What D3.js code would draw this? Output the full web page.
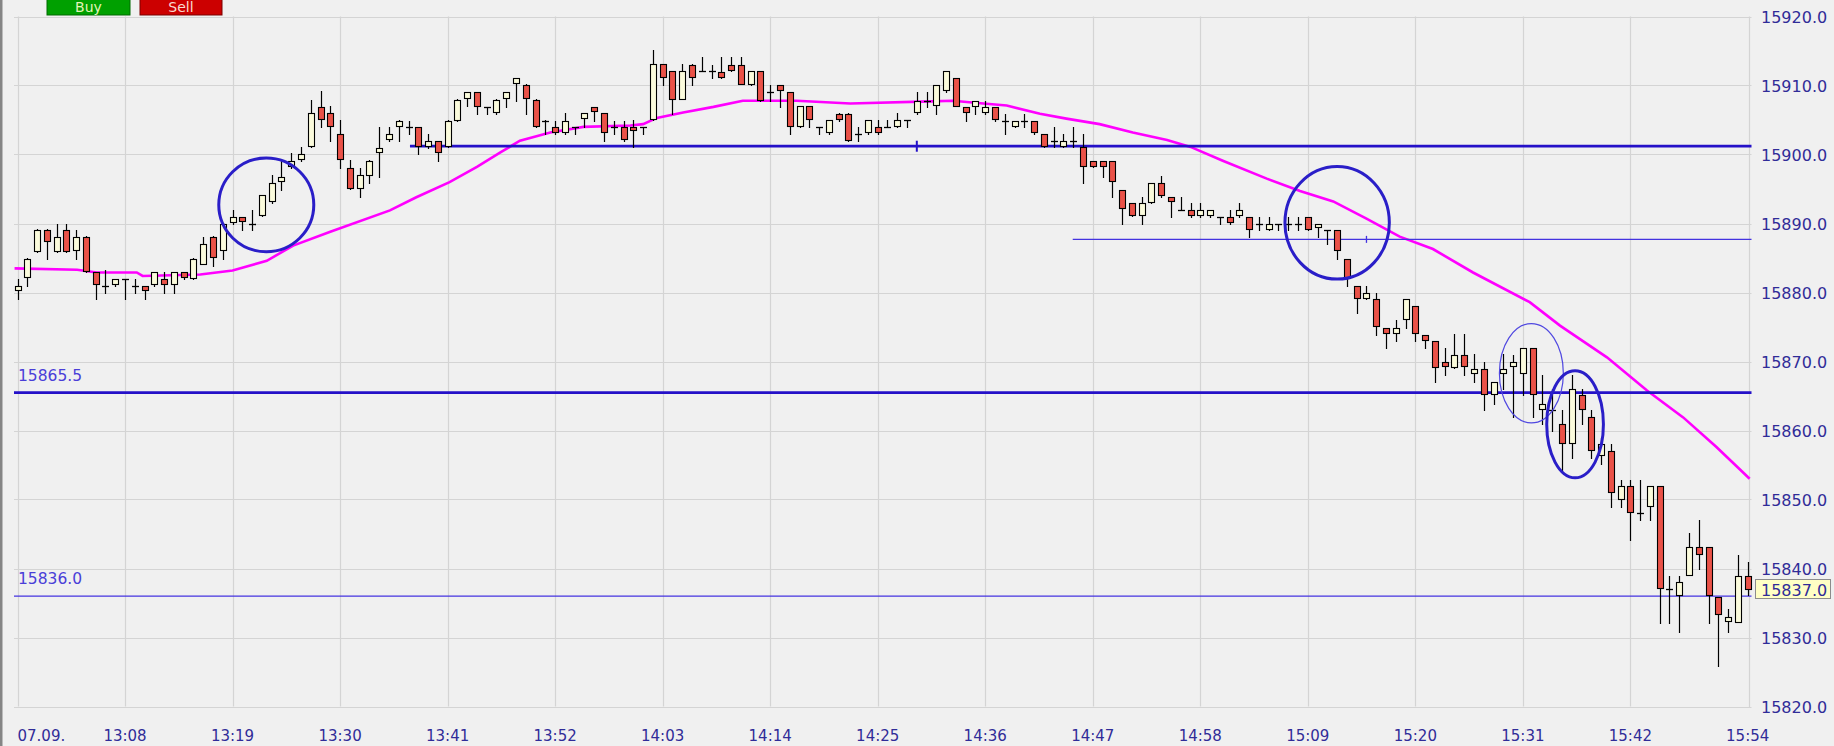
<!DOCTYPE html>
<html><head><meta charset="utf-8">
<script src="https://cdn.jsdelivr.net/npm/d3@7/dist/d3.min.js"></script>
<style>
html,body{margin:0;padding:0;background:#f0f0f0;overflow:hidden;}
svg{display:block;}
text{font-family:"DejaVu Sans",Verdana,sans-serif;}
</style></head><body>
<svg id="chart" width="1834" height="746"></svg>
<script>
// ---- data (1-minute candles, 07.09., 12:57 .. 15:54) ----
const opens = [15880.3,15882.2,15886.0,15889.1,15886.0,15889.0,15886.1,15888.1,15882.9,15881.0,
15881.2,15881.9,15880.9,15880.9,15881.2,15881.9,15881.2,15882.9,15882.1,15884.2,
15888.1,15886.1,15890.2,15891.0,15890.0,15891.3,15893.2,15896.1,15898.3,15899.3,
15901.2,15906.9,15906.0,15903.0,15898.1,15895.2,15897.1,15900.3,15902.2,15904.2,
15904.0,15904.0,15901.3,15902.0,15901.2,15905.0,15908.2,15909.0,15906.9,15906.1,
15908.2,15910.3,15910.1,15907.9,15904.9,15904.0,15903.3,15904.0,15905.3,15906.9,
15906.0,15904.0,15904.0,15904.0,15904.0,15905.2,15913.1,15912.1,15908.1,15913.0,
15912.1,15912.1,15911.9,15913.0,15913.0,15910.2,15912.1,15909.0,15910.1,15909.1,
15904.2,15907.0,15904.0,15903.2,15905.9,15905.9,15903.0,15903.2,15904.0,15904.0,
15904.2,15905.0,15906.1,15907.8,15907.2,15909.3,15911.1,15906.9,15907.1,15906.1,
15906.9,15904.9,15904.2,15904.9,15904.9,15903.0,15902.0,15901.2,15902.0,15901.1,
15899.1,15899.1,15899.1,15894.9,15892.9,15891.3,15893.1,15895.8,15893.9,15892.0,
15892.0,15891.3,15891.3,15890.9,15890.9,15891.3,15891.0,15890.0,15889.2,15890.0,
15890.0,15890.0,15891.0,15889.5,15889.0,15889.1,15884.9,15881.0,15879.2,15879.1,
15874.9,15874.1,15876.2,15878.1,15873.9,15872.9,15870.0,15869.2,15871.0,15868.3,
15868.9,15865.3,15868.3,15869.3,15868.3,15871.9,15863.1,15863.0,15861.0,15858.2,
15865.1,15861.9,15856.4,15857.0,15850.1,15851.9,15848.0,15849.1,15851.9,15837.0,
15836.2,15839.1,15843.1,15843.1,15835.9,15832.4,15832.2,15838.9];
const highs = [15882.0,15885.0,15889.2,15889.2,15890.0,15890.0,15889.1,15888.2,15883.0,15883.2,
15882.0,15882.0,15881.9,15880.9,15883.0,15882.9,15883.0,15883.0,15885.0,15888.1,
15888.2,15890.1,15892.0,15891.0,15892.0,15894.2,15897.0,15899.1,15900.2,15901.1,
15907.9,15909.2,15907.0,15905.0,15899.2,15898.1,15899.2,15904.0,15904.0,15905.0,
15904.9,15904.0,15903.0,15902.0,15905.0,15908.0,15909.1,15909.1,15906.9,15908.0,
15909.1,15911.1,15910.2,15908.0,15905.0,15904.9,15906.0,15904.0,15906.0,15906.9,
15906.0,15904.9,15904.9,15905.0,15904.0,15915.1,15913.1,15912.1,15913.1,15913.1,
15914.2,15913.0,15914.1,15914.1,15914.1,15912.1,15912.1,15910.1,15910.1,15909.1,
15907.0,15907.0,15904.0,15905.0,15906.0,15906.0,15904.0,15905.0,15905.0,15905.0,
15906.0,15905.0,15909.0,15909.0,15910.1,15912.1,15911.1,15906.9,15907.8,15907.8,
15906.9,15905.9,15904.9,15905.9,15904.9,15903.0,15904.0,15903.0,15904.0,15903.0,
15899.1,15899.1,15899.1,15894.9,15892.9,15893.9,15895.8,15896.9,15893.9,15893.9,
15892.9,15892.9,15892.0,15890.9,15891.9,15892.9,15891.0,15891.0,15891.0,15890.0,
15891.0,15891.0,15891.0,15890.0,15889.0,15889.1,15884.9,15881.0,15881.0,15880.0,
15874.9,15876.0,15879.1,15878.1,15873.9,15872.9,15872.0,15874.0,15874.0,15871.1,
15870.0,15867.1,15871.1,15871.0,15871.9,15871.9,15868.1,15866.0,15862.9,15868.0,
15866.0,15862.9,15858.9,15858.0,15852.8,15852.8,15852.8,15851.9,15851.9,15838.9,
15838.9,15845.1,15847.0,15843.1,15835.9,15834.1,15841.9,15840.9];
const lows = [15879.1,15880.9,15885.8,15884.8,15885.9,15885.8,15884.8,15882.9,15879.0,15879.9,
15880.9,15879.0,15879.9,15879.0,15881.0,15879.9,15879.9,15881.9,15881.9,15884.1,
15883.9,15884.9,15890.0,15889.0,15889.0,15891.1,15893.0,15894.9,15898.1,15899.1,
15901.1,15904.0,15901.9,15898.1,15895.0,15893.9,15895.8,15896.8,15901.9,15901.9,
15903.0,15900.0,15901.0,15899.0,15901.1,15904.9,15907.0,15905.9,15905.9,15905.9,
15906.9,15907.8,15905.9,15904.0,15903.0,15903.0,15903.0,15903.0,15904.0,15904.9,
15902.0,15903.0,15902.0,15901.1,15903.0,15905.0,15910.0,15905.9,15908.0,15910.0,
15912.1,15911.1,15911.1,15912.1,15910.2,15910.0,15907.8,15907.7,15906.9,15903.0,
15904.0,15904.0,15903.0,15903.0,15904.9,15902.0,15902.0,15903.0,15903.0,15904.0,
15904.0,15904.0,15905.9,15906.9,15905.9,15909.0,15907.0,15904.9,15905.9,15905.9,
15904.9,15903.0,15904.0,15904.0,15903.0,15901.1,15901.1,15901.1,15901.1,15895.8,
15898.2,15896.8,15893.9,15890.0,15891.1,15890.0,15892.9,15893.9,15891.0,15892.0,
15891.0,15891.0,15891.0,15890.0,15890.0,15891.0,15888.0,15889.0,15889.0,15889.0,
15889.0,15889.0,15889.0,15888.0,15887.0,15884.9,15880.9,15877.0,15879.1,15873.9,
15872.0,15872.9,15874.9,15872.9,15872.0,15867.0,15868.1,15869.1,15868.0,15867.0,
15862.9,15863.9,15866.0,15861.9,15865.1,15861.9,15860.9,15860.0,15854.2,15856.0,
15860.9,15856.0,15855.1,15848.9,15848.9,15844.1,15847.0,15847.0,15832.1,15832.1,
15830.8,15839.0,15839.9,15832.1,15825.9,15830.8,15832.2,15836.1];
const closes = [15881.0,15884.9,15889.1,15887.4,15888.0,15886.0,15888.0,15883.1,15881.2,15881.0,
15881.9,15881.9,15880.9,15880.3,15882.9,15881.2,15882.9,15882.2,15884.9,15887.1,
15885.2,15890.0,15891.0,15890.4,15890.0,15894.1,15895.9,15896.8,15899.0,15900.0,
15906.0,15905.2,15904.2,15899.3,15895.1,15897.0,15899.1,15901.0,15903.0,15904.9,
15904.0,15901.3,15902.0,15900.3,15904.9,15907.9,15909.0,15907.1,15906.9,15907.9,
15909.0,15911.1,15908.2,15904.1,15904.9,15903.2,15904.9,15904.0,15906.0,15906.3,
15903.2,15904.0,15902.2,15903.5,15904.0,15913.1,15911.3,15908.1,15912.1,15911.2,
15912.1,15912.1,15911.2,15912.3,15910.2,15912.1,15907.9,15909.0,15909.4,15904.2,
15907.0,15905.2,15904.0,15905.0,15905.2,15902.1,15903.0,15905.0,15903.2,15904.0,
15905.0,15905.0,15907.8,15907.8,15910.1,15912.1,15907.1,15906.1,15907.8,15906.9,
15905.1,15904.9,15904.9,15904.9,15903.2,15901.2,15902.0,15902.0,15902.0,15898.4,
15898.4,15898.4,15896.2,15892.3,15891.2,15892.9,15895.8,15894.2,15893.2,15892.0,
15891.3,15892.0,15891.9,15890.9,15890.2,15892.0,15889.2,15890.0,15890.0,15890.0,
15890.0,15890.0,15889.2,15890.0,15889.0,15886.1,15882.1,15879.2,15880.0,15875.2,
15874.1,15874.9,15879.1,15874.1,15873.1,15869.2,15869.3,15871.0,15869.3,15868.9,
15865.3,15867.1,15868.9,15870.0,15871.9,15865.3,15863.9,15863.0,15858.2,15866.0,
15863.1,15857.2,15858.0,15851.1,15851.9,15848.2,15848.0,15851.9,15837.2,15837.0,
15838.0,15843.1,15842.1,15836.2,15833.4,15833.0,15838.9,15837.0];

const tickIndex = [0,11,22,33,44,55,66,77,88,99,110,121,132,143,154,165,177];
const tickLabels = ["07.09.","13:08","13:19","13:30","13:41","13:52","14:03","14:14","14:25",
  "14:36","14:47","14:58","15:09","15:20","15:31","15:42","15:54"];
const priceTicks = [15820,15830,15840,15850,15860,15870,15880,15890,15900,15910,15920];

// moving average (index, value)
const maIndex = [-0.3,6.1,8.1,12.2,12.8,18.7,22.0,25.5,28.2,32.0,38.1,40.8,44.2,47.0,49.4,51.4,54.5,57.9,
  62.7,64.0,65.4,68.1,71.2,74.2,79.7,85.2,93.4,95.7,98.8,101.2,104.6,107.3,110.7,114.1,117.6,120.0,
  123.3,127.8,131.2,134.6,138.0,141.4,144.8,148.9,154.7,157.8,162.6,166.7,170.4,173.8,177.2];
const maValue = [15883.5,15883.3,15882.9,15882.9,15882.4,15882.6,15883.2,15884.6,15886.8,15888.8,15891.9,
  15893.8,15896.0,15898.2,15900.3,15902.0,15903.2,15904.0,15904.2,15904.4,15905.3,15906.1,15906.9,
  15907.8,15907.8,15907.4,15907.7,15907.8,15907.4,15907.1,15905.9,15905.2,15904.4,15903.2,15902.1,
  15901.1,15899.1,15896.5,15894.7,15893.2,15890.7,15888.1,15886.3,15882.9,15878.6,15875.2,15870.6,
  15865.8,15861.9,15857.6,15853.0];

// horizontal levels
const levelValues = [15901.2, 15887.7, 15865.5, 15836.0];
const levelStartIndex = [40.15, 107.95, null, null];
const levelLabels = [null, null, "15865.5", "15836.0"];
const levelHeavy = [true, false, true, false];
const levelMarkIndex = [92.0, 138.0, null, null];

// ellipse annotations (centre index, centre price, radius in minutes, radius in price)
const ellipseIndex = [25.45, 135.0, 154.87, 159.34];
const ellipsePrice = [15892.7, 15890.1, 15868.3, 15860.9];
const ellipseRMin = [4.86, 5.34, 3.27, 2.9];
const ellipseRPrice = [6.8, 8.16, 7.2, 7.75];
const ellipseHeavy = [true, true, false, true];

const lastPrice = 15837.0;

// ---- drawing ----
const svg = d3.select("#chart");
const W = 1834, H = 746;
const x = d3.scaleLinear().domain([0, 177]).range([17.5, 1747.7]);
const y = d3.scaleLinear().domain([15820, 15920]).range([706.5, 16.5]);
const plotL = 14, plotR = 1751.5, borderX = 1749.5;

svg.append("rect").attr("width", W).attr("height", H).attr("fill", "#f0f0f0");

const grid = svg.append("g").attr("stroke", "#d4d4d4").attr("stroke-width", 1.2);
grid.selectAll("line.h").data(priceTicks).join("line")
  .attr("x1", plotL).attr("x2", plotR)
  .attr("y1", d => Math.round(y(d)) + 0.5).attr("y2", d => Math.round(y(d)) + 0.5);
grid.selectAll("line.v").data(tickIndex.slice(0, -1)).join("line")
  .attr("x1", d => Math.round(x(d)) + 0.5).attr("x2", d => Math.round(x(d)) + 0.5)
  .attr("y1", y(15920)).attr("y2", y(15820));
grid.append("line").attr("x1", borderX).attr("x2", borderX).attr("y1", y(15920)).attr("y2", y(15820) + 1);

// left window border
svg.append("rect").attr("x", 0).attr("y", 0).attr("width", 2.5).attr("height", H).attr("fill", "#858585");

// Buy / Sell buttons
const btns = [{t:"Buy", x0:47, x1:130, fill:"#00a000", edge:"#006a00", tc:"#e4f4b8"},
              {t:"Sell", x0:140, x1:222, fill:"#cc0000", edge:"#7a0000", tc:"#f8d8d0"}];
btns.forEach(b => {
  svg.append("rect").attr("x", b.x0).attr("y", -3).attr("width", b.x1 - b.x0).attr("height", 18)
    .attr("fill", b.fill).attr("stroke", b.edge).attr("stroke-width", 1);
  svg.append("text").attr("x", (b.x0 + b.x1) / 2).attr("y", 12).attr("text-anchor", "middle")
    .attr("font-size", 14).attr("fill", b.tc).text(b.t);
});

// moving average
svg.append("path")
  .attr("d", d3.line().x(d => x(d[0])).y(d => y(d[1]))(maIndex.map((d, i) => [d, maValue[i]])))
  .attr("fill", "none").attr("stroke", "#ff00ff").attr("stroke-width", 2.6);

// horizontal levels
levelValues.forEach((v, i) => {
  const yy = y(v);
  const x1 = levelStartIndex[i] === null ? plotL : x(levelStartIndex[i]);
  svg.append("line").attr("x1", x1).attr("x2", plotR).attr("y1", yy).attr("y2", yy)
    .attr("stroke", levelHeavy[i] ? "#2410c8" : "#4433e0")
    .attr("stroke-width", levelHeavy[i] ? 2.8 : 1.3);
  if (levelMarkIndex[i] !== null) {
    const mx = x(levelMarkIndex[i]);
    const hh = levelHeavy[i] ? 5.5 : 3.5;
    svg.append("line").attr("x1", mx).attr("x2", mx).attr("y1", yy - hh).attr("y2", yy + hh)
      .attr("stroke", levelHeavy[i] ? "#2410c8" : "#4433e0").attr("stroke-width", levelHeavy[i] ? 2 : 1.3);
  }
  if (levelLabels[i]) {
    svg.append("text").attr("x", 18).attr("y", yy - 12).attr("font-size", 15.5)
      .attr("fill", "#4a3ed8").text(levelLabels[i]);
  }
});

// candles
const candles = svg.append("g");
opens.forEach((o, i) => {
  const c = closes[i], hi = highs[i], lo = lows[i];
  const X = Math.round(x(i));
  candles.append("line").attr("x1", X + 0.5).attr("x2", X + 0.5)
    .attr("y1", Math.round(y(hi))).attr("y2", Math.round(y(lo)) + 1)
    .attr("stroke", "#000").attr("stroke-width", 1.2);
  const yt = Math.round(y(Math.max(o, c))), yb = Math.round(y(Math.min(o, c)));
  if (yb - yt < 2) {
    candles.append("line").attr("x1", X - 3).attr("x2", X + 4)
      .attr("y1", yt + 0.5).attr("y2", yt + 0.5).attr("stroke", "#000").attr("stroke-width", 1.3);
    if (yb - yt >= 1) {
      candles.append("rect").attr("x", X - 2.5).attr("y", yt + 0.5).attr("width", 6).attr("height", yb - yt)
        .attr("fill", c >= o ? "#fbfbdc" : "#ea5248").attr("stroke", "#000").attr("stroke-width", 1.1);
    }
  } else {
    candles.append("rect").attr("x", X - 2.5).attr("y", yt + 0.5).attr("width", 6).attr("height", yb - yt)
      .attr("fill", c >= o ? "#fbfbdc" : "#ea5248").attr("stroke", "#000").attr("stroke-width", 1.1);
  }
});

// ellipse annotations
ellipseIndex.forEach((ci, i) => {
  const cx = x(ci), cy = y(ellipsePrice[i]);
  const rx = x(ci + ellipseRMin[i]) - cx, ry = cy - y(ellipsePrice[i] + ellipseRPrice[i]);
  svg.append("ellipse").attr("cx", cx).attr("cy", cy).attr("rx", rx).attr("ry", ry)
    .attr("fill", "none").attr("stroke", ellipseHeavy[i] ? "#2a1ec8" : "#5048e0")
    .attr("stroke-width", ellipseHeavy[i] ? 3 : 1.2);
});

// right price axis labels
svg.append("g").selectAll("text").data(priceTicks).join("text")
  .attr("x", 1761).attr("y", d => y(d) + 6.5)
  .attr("font-size", 16).attr("fill", "#302c98")
  .text(d => d3.format(".1f")(d));

// last price box
const ly = y(lastPrice);
svg.append("rect").attr("x", 1755.5).attr("y", Math.round(ly) - 9.5).attr("width", 75).attr("height", 19)
  .attr("fill", "#ffffc4").attr("stroke", "#8c8c8c").attr("stroke-width", 1);
svg.append("text").attr("x", 1761).attr("y", ly + 6.5).attr("font-size", 16).attr("fill", "#302c98")
  .text(d3.format(".1f")(lastPrice));

// time axis labels
svg.append("g").selectAll("text").data(tickIndex).join("text")
  .attr("x", d => x(d))
  .attr("y", 741)
  .attr("text-anchor", (d, i) => i === 0 ? "start" : "middle")
  .attr("font-size", 15).attr("fill", "#302c98")
  .text((d, i) => tickLabels[i]);
</script>
</body></html>
